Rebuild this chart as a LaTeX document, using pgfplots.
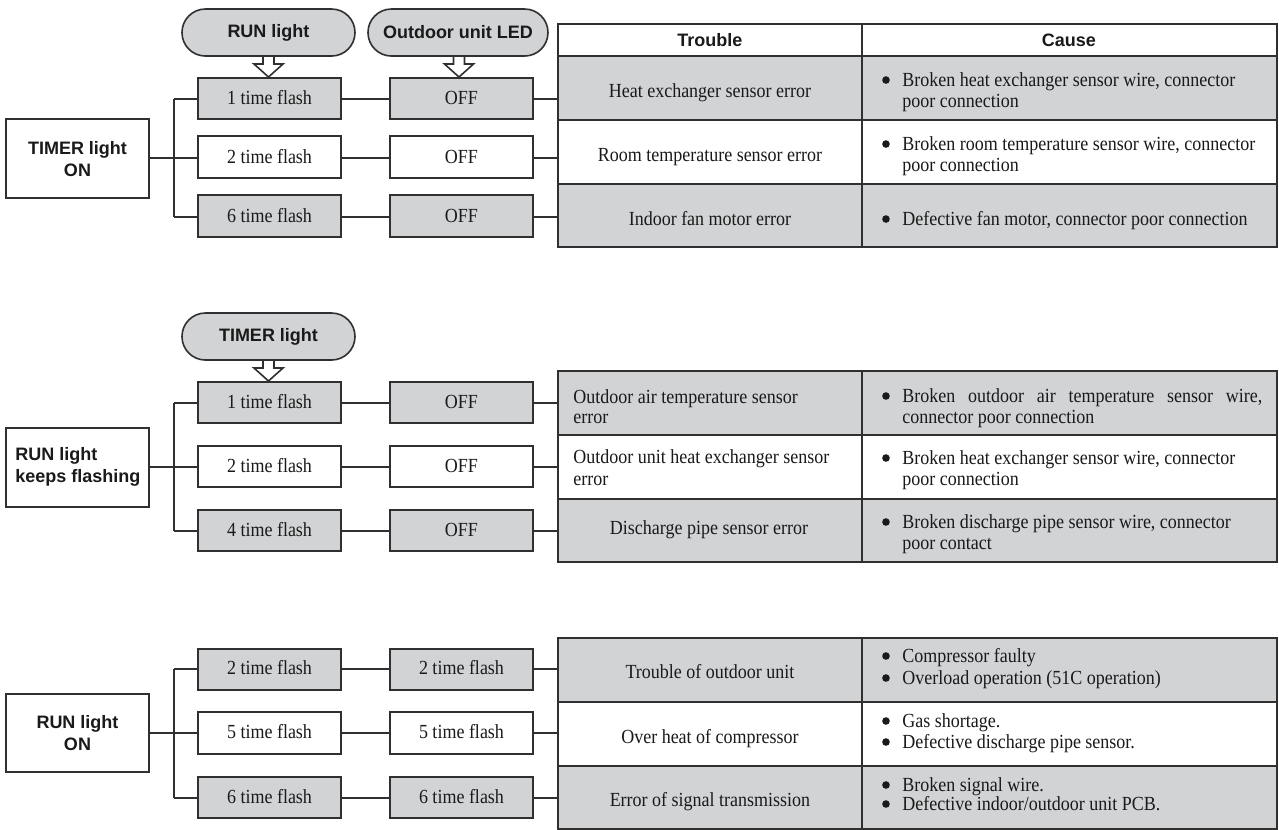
\documentclass[border=0pt]{standalone}
\usepackage{fontspec}
\setmainfont{Liberation Serif}[FakeStretch=0.9]
\setsansfont{Liberation Sans}
\usepackage{pgfplots}
\pgfplotsset{compat=1.18}
\definecolor{boxgray}{HTML}{D2D3D5}
\definecolor{linec}{HTML}{303030}
\definecolor{txt}{HTML}{1A1A1A}
\begin{document}
\begin{tikzpicture}[
  bx/.style={draw=linec, line width=0.8bp},
  sf/.style={font=\fontsize{9bp}{11bp}\selectfont\sffamily\bfseries, text=txt, align=center, inner sep=0pt},
  rm/.style={font=\fontsize{10bp}{12bp}\selectfont, text=txt, text height=7bp, text depth=2bp, inner sep=0pt},
  bul/.style={fill=txt},
]
\begin{axis}[x=0.5bp, y=0.5bp, y dir=reverse, xmin=0, xmax=1279, ymin=0, ymax=830,
  hide axis, clip=false, anchor=south west, at={(0,0)}]

% ================= SECTION 1 =================
\draw[bx, fill=boxgray, rounded corners=11.7bp] (182,9) rectangle (355,56);
\draw[bx, fill=boxgray, rounded corners=11.7bp] (368,9) rectangle (548,56);
\node[sf] at (268.5,32.5) {RUN light};
\node[sf] at (458,32.5) {Outdoor unit LED};
\draw[bx, fill=white] (263,56) -- (274,56) -- (274,64) -- (283,64) -- (268.5,77) -- (254,64) -- (263,64) -- cycle;
\draw[bx, fill=white] (453.5,56) -- (464.5,56) -- (464.5,64) -- (473.5,64) -- (459,77) -- (444.5,64) -- (453.5,64) -- cycle;

\draw[bx, fill=white] (6,119) rectangle (149,198);
\node[sf] at (77.5,159) {TIMER light\\ON};
\draw[bx] (149,158) -- (174,158);
\draw[bx] (174,99) -- (174,217);
\draw[bx] (174,99) -- (198,99);
\draw[bx] (174,158) -- (198,158);
\draw[bx] (174,217) -- (198,217);

\draw[bx, fill=boxgray] (198,78) rectangle (341,119);
\draw[bx, fill=white] (198,136) rectangle (341,178);
\draw[bx, fill=boxgray] (198,195) rectangle (341,237);
\draw[bx, fill=boxgray] (390,78) rectangle (533,119);
\draw[bx, fill=white] (390,136) rectangle (533,178);
\draw[bx, fill=boxgray] (390,195) rectangle (533,237);
\draw[bx] (341,99) -- (390,99); \draw[bx] (533,99) -- (558,99);
\draw[bx] (341,158) -- (390,158); \draw[bx] (533,158) -- (558,158);
\draw[bx] (341,217) -- (390,217); \draw[bx] (533,217) -- (558,217);
\node[rm] at (269.5,99) {1 time flash};
\node[rm] at (269.5,158) {2 time flash};
\node[rm] at (269.5,217) {6 time flash};
\node[rm] at (461.5,99) {OFF};
\node[rm] at (461.5,158) {OFF};
\node[rm] at (461.5,217) {OFF};

\draw[bx, fill=white] (558,24) rectangle (1277,56);
\draw[bx, fill=boxgray] (558,56) rectangle (1277,120);
\draw[bx, fill=white] (558,120) rectangle (1277,184);
\draw[bx, fill=boxgray] (558,184) rectangle (1277,247);
\draw[bx] (862,24) -- (862,247);
\node[sf] at (710,40) {Trouble};
\node[sf] at (1069,40) {Cause};
\node[rm] at (710,92) {Heat exchanger sensor error};
\node[rm] at (710,156) {Room temperature sensor error};
\node[rm] at (710,220) {Indoor fan motor error};
\fill[bul] (886,80) circle[radius=1.9bp];
\node[rm, anchor=west] at (902,81) {Broken heat exchanger sensor wire, connector};
\node[rm, anchor=west] at (902,102) {poor connection};
\fill[bul] (886,144) circle[radius=1.9bp];
\node[rm, anchor=west] at (902,145) {Broken room temperature sensor wire, connector};
\node[rm, anchor=west] at (902,166) {poor connection};
\fill[bul] (886,219) circle[radius=1.9bp];
\node[rm, anchor=west] at (902,220) {Defective fan motor, connector poor connection};

% ================= SECTION 2 =================
\draw[bx, fill=boxgray, rounded corners=11.7bp] (182,313) rectangle (355,360);
\node[sf] at (268.5,336.5) {TIMER light};
\draw[bx, fill=white] (263,360) -- (274,360) -- (274,368) -- (283,368) -- (268.5,381) -- (254,368) -- (263,368) -- cycle;

\draw[bx, fill=white] (6,428) rectangle (149,507);
\node[sf, align=left, anchor=west] at (15,467) {RUN light\\keeps flashing};
\draw[bx] (149,467) -- (174,467);
\draw[bx] (174,403) -- (174,531);
\draw[bx] (174,403) -- (198,403);
\draw[bx] (174,467) -- (198,467);
\draw[bx] (174,531) -- (198,531);

\draw[bx, fill=boxgray] (198,382) rectangle (341,423);
\draw[bx, fill=white] (198,446) rectangle (341,487);
\draw[bx, fill=boxgray] (198,510) rectangle (341,551);
\draw[bx, fill=boxgray] (390,382) rectangle (533,423);
\draw[bx, fill=white] (390,446) rectangle (533,487);
\draw[bx, fill=boxgray] (390,510) rectangle (533,551);
\draw[bx] (341,403) -- (390,403); \draw[bx] (533,403) -- (558,403);
\draw[bx] (341,467) -- (390,467); \draw[bx] (533,467) -- (558,467);
\draw[bx] (341,531) -- (390,531); \draw[bx] (533,531) -- (558,531);
\node[rm] at (269.5,403) {1 time flash};
\node[rm] at (269.5,467) {2 time flash};
\node[rm] at (269.5,531) {4 time flash};
\node[rm] at (461.5,403) {OFF};
\node[rm] at (461.5,467) {OFF};
\node[rm] at (461.5,531) {OFF};

\draw[bx, fill=boxgray] (558,371) rectangle (1277,435);
\draw[bx, fill=white] (558,435) rectangle (1277,499);
\draw[bx, fill=boxgray] (558,499) rectangle (1277,562);
\draw[bx] (862,371) -- (862,562);
\node[rm, anchor=west] at (573,398) {Outdoor air temperature sensor};
\node[rm, anchor=west] at (573,418) {error};
\node[rm, anchor=west] at (573,458) {Outdoor unit heat exchanger sensor};
\node[rm, anchor=west] at (573,480) {error};
\node[rm] at (709,529) {Discharge pipe sensor error};
\fill[bul] (886,396) circle[radius=1.9bp];
\node[rm, anchor=west] at (902,397) {\makebox[180bp][s]{Broken outdoor air temperature sensor wire,}};
\node[rm, anchor=west] at (902,418) {connector poor connection};
\fill[bul] (886,458) circle[radius=1.9bp];
\node[rm, anchor=west] at (902,459) {Broken heat exchanger sensor wire, connector};
\node[rm, anchor=west] at (902,480) {poor connection};
\fill[bul] (886,522) circle[radius=1.9bp];
\node[rm, anchor=west] at (902,523) {Broken discharge pipe sensor wire, connector};
\node[rm, anchor=west] at (902,544) {poor contact};

% ================= SECTION 3 =================
\draw[bx, fill=white] (6,694) rectangle (149,772);
\node[sf] at (77.5,733) {RUN light\\ON};
\draw[bx] (149,733) -- (174,733);
\draw[bx] (174,669) -- (174,798);
\draw[bx] (174,669) -- (198,669);
\draw[bx] (174,733) -- (198,733);
\draw[bx] (174,798) -- (198,798);

\draw[bx, fill=boxgray] (198,649) rectangle (341,690);
\draw[bx, fill=white] (198,712) rectangle (341,754);
\draw[bx, fill=boxgray] (198,777) rectangle (341,818);
\draw[bx, fill=boxgray] (390,649) rectangle (533,690);
\draw[bx, fill=white] (390,712) rectangle (533,754);
\draw[bx, fill=boxgray] (390,777) rectangle (533,818);
\draw[bx] (341,669) -- (390,669); \draw[bx] (533,669) -- (558,669);
\draw[bx] (341,733) -- (390,733); \draw[bx] (533,733) -- (558,733);
\draw[bx] (341,798) -- (390,798); \draw[bx] (533,798) -- (558,798);
\node[rm] at (269.5,669) {2 time flash};
\node[rm] at (269.5,733) {5 time flash};
\node[rm] at (269.5,798) {6 time flash};
\node[rm] at (461.5,669) {2 time flash};
\node[rm] at (461.5,733) {5 time flash};
\node[rm] at (461.5,798) {6 time flash};

\draw[bx, fill=boxgray] (558,638) rectangle (1277,702);
\draw[bx, fill=white] (558,702) rectangle (1277,766);
\draw[bx, fill=boxgray] (558,766) rectangle (1277,829);
\draw[bx] (862,638) -- (862,829);
\node[rm] at (710,673) {Trouble of outdoor unit};
\node[rm] at (710,738) {Over heat of compressor};
\node[rm] at (710,801) {Error of signal transmission};
\fill[bul] (886,656) circle[radius=1.9bp];
\node[rm, anchor=west] at (902,657) {Compressor faulty};
\fill[bul] (886,678) circle[radius=1.9bp];
\node[rm, anchor=west] at (902,679) {Overload operation (51C operation)};
\fill[bul] (886,721) circle[radius=1.9bp];
\node[rm, anchor=west] at (902,722) {Gas shortage.};
\fill[bul] (886,742) circle[radius=1.9bp];
\node[rm, anchor=west] at (902,743) {Defective discharge pipe sensor.};
\fill[bul] (886,785) circle[radius=1.9bp];
\node[rm, anchor=west] at (902,786) {Broken signal wire.};
\fill[bul] (886,804) circle[radius=1.9bp];
\node[rm, anchor=west] at (902,805) {Defective indoor/outdoor unit PCB.};
\end{axis}
\pgfresetboundingbox
\path (0,0) rectangle (639.5bp,415bp);
\end{tikzpicture}
\end{document}
